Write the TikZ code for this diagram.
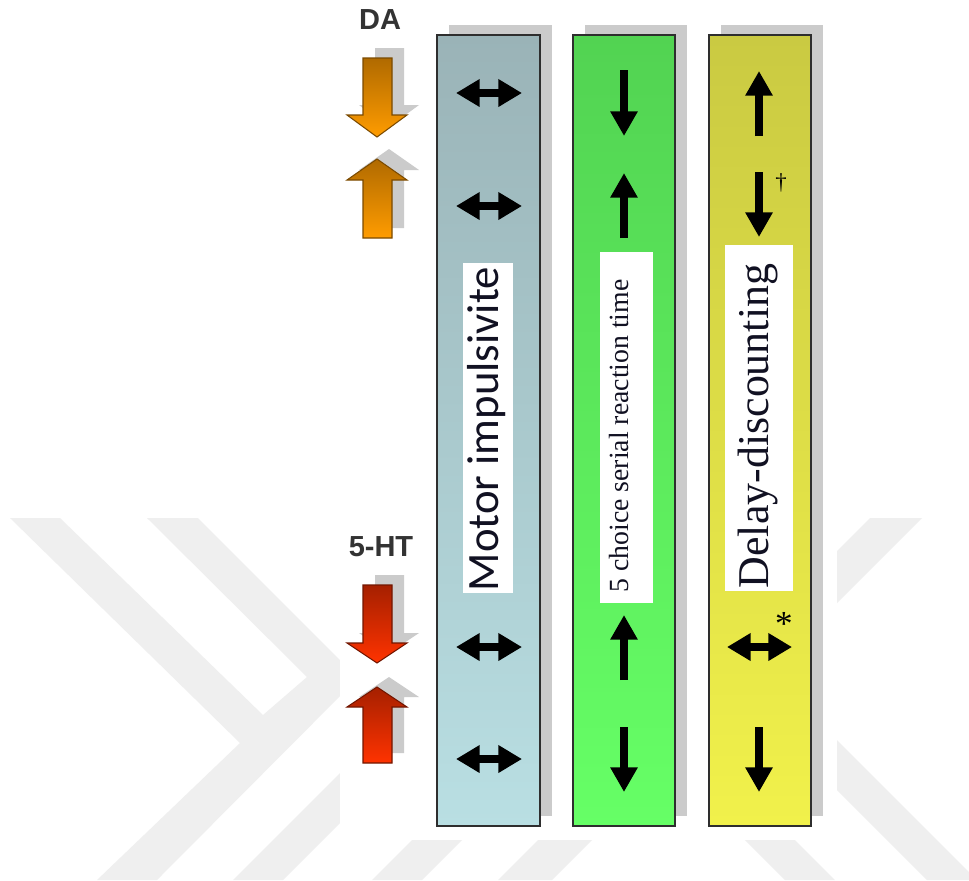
\documentclass[tikz,border=0pt]{standalone}
\usepackage{fontspec}
\setmainfont{Liberation Serif}
\newfontfamily\arialfont{Liberation Sans}
\newfontfamily\carlitofont{Carlito}
\usetikzlibrary{arrows.meta}
\definecolor{wm}{HTML}{EFEFEF}
\definecolor{shad}{HTML}{CBCBCB}
\definecolor{colborder}{HTML}{2E2E2E}
\definecolor{blueTop}{HTML}{9AB3B7}
\definecolor{blueBot}{HTML}{B9DFE3}
\definecolor{greenTop}{HTML}{52D352}
\definecolor{greenBot}{HTML}{66FF66}
\definecolor{yelTop}{HTML}{CACA42}
\definecolor{yelBot}{HTML}{F1F14B}
\definecolor{orTop}{HTML}{B06A00}
\definecolor{orBot}{HTML}{FF9C00}
\definecolor{rdTop}{HTML}{A52000}
\definecolor{rdBot}{HTML}{FF3300}
\definecolor{lbltext}{HTML}{111122}
\definecolor{hdtext}{HTML}{333333}
\tikzset{
  colbox/.style={draw=colborder, line width=1.5pt},
  colshadow/.style={fill=shad},
  lblbox/.style={fill=white},
  vArrow/.style={line width=4.5pt, -{Triangle[width=14.7pt,length=14pt]}},
  hArrow/.style={line width=4.5pt, {Triangle[width=15pt,length=13.5pt]}-{Triangle[width=15pt,length=13.5pt]}},
  orangeArrow/.style={top color=orTop, bottom color=orBot, draw=orTop!70!black, line width=0.6pt},
  redArrow/.style={top color=rdTop, bottom color=rdBot, draw=rdTop!70!black, line width=0.6pt},
  head/.style={font=\arialfont\bfseries\fontsize{16.5}{18}\selectfont, text=hdtext}
}
\begin{document}
\begin{tikzpicture}[x=0.02cm,y=-0.02cm]
\useasboundingbox (0,0) rectangle (969,880);
\fill[white] (0,0) rectangle (969,880);
% watermark
\fill[wm] (10,518) -- (60,518) -- (263,715) -- (307,677) -- (147,518) -- (198,518) -- (358,678) -- (157,880) -- (97,880) -- (240,743) -- cycle;
\fill[wm] (233,880) -- (283,880) -- (400,763) -- (400,713) -- cycle;
\fill[wm] (422,830) -- (472,830) -- (422,880) -- (372,880) -- cycle;
\fill[wm] (548,830) -- (602,830) -- (552,880) -- (498,880) -- cycle;
\fill[wm] (735,830) -- (785,830) -- (835,880) -- (785,880) -- cycle;
\fill[wm] (870,518) -- (922,518) -- (800,640) -- (800,588) -- cycle;
\fill[wm] (800,703) -- (969,872) -- (969,880) -- (927,880) -- (800,753) -- cycle;
\fill[white] (340,0) rectangle (837,840);

% column shadows
\fill[colshadow] (449,25) rectangle (552,816);
\fill[colshadow] (585,25) rectangle (687,816);
\fill[colshadow] (721,25) rectangle (823,816);
% columns
\draw[colbox, top color=blueTop, bottom color=blueBot] (437,35) rectangle (540,826);
\draw[colbox, top color=greenTop, bottom color=greenBot] (573,35) rectangle (675,826);
\draw[colbox, top color=yelTop, bottom color=yelBot] (709,35) rectangle (811,826);

% labels in columns
\fill[lblbox] (463,263) rectangle (513,593);
\node[rotate=90, text=lbltext, font=\carlitofont\fontsize{25.5}{28}\selectfont] (motor) at (487,429) {Motor impulsivite};
\fill[lblbox] (600,252) rectangle (653,603);
\node[rotate=90, text=lbltext, font=\fontsize{15.8}{18}\selectfont] (fcsrt) at (619,436) {5 choice serial reaction time};
\fill[lblbox] (725,245) rectangle (793,591);
\node[rotate=90, text=lbltext, font=\fontsize{25}{28}\selectfont] (delay) at (758,426) {Delay-discounting};

% arrows in blue column
\draw[hArrow] (456,93) -- (522,93);
\draw[hArrow] (456,206) -- (522,206);
\draw[hArrow] (456,647) -- (522,647);
\draw[hArrow] (456,759) -- (522,759);
% green column
\draw[vArrow] (624,70) -- (624,136);
\draw[vArrow] (624,238) -- (624,173);
\draw[vArrow] (624,680) -- (624,615);
\draw[vArrow] (624,727) -- (624,792);
% yellow column
\draw[vArrow] (759,136) -- (759,71);
\draw[vArrow] (759,172) -- (759,237);
\draw[hArrow] (727,647) -- (792,647);
\draw[vArrow] (759,727) -- (759,792);
\node[font=\fontsize{13}{15}\selectfont] (dagger) at (781,183) {\textdagger};
\node[font=\fontsize{20}{22}\selectfont] (star) at (784,624) {*};

% headings
\node[head] (da) at (380,20) {DA};
\node[head] (ht) at (381,547) {5-HT};

% block arrows: shadows
\begin{scope}[shift={(12,-10)}]
\fill[shad] (363,58) -- (392,58) -- (392,115) -- (407,115) -- (377,137) -- (347,115) -- (363,115) -- cycle;
\fill[shad] (377,159) -- (407,180) -- (392,180) -- (392,238) -- (363,238) -- (363,180) -- (347,180) -- cycle;
\fill[shad] (363,585) -- (392,585) -- (392,643) -- (407,643) -- (377,663) -- (347,643) -- (363,643) -- cycle;
\fill[shad] (377,687) -- (407,707) -- (392,707) -- (392,763) -- (363,763) -- (363,707) -- (347,707) -- cycle;
\end{scope}
% block arrows
\draw[orangeArrow] (363,58) -- (392,58) -- (392,115) -- (407,115) -- (377,137) -- (347,115) -- (363,115) -- cycle;
\draw[orangeArrow] (377,159) -- (407,180) -- (392,180) -- (392,238) -- (363,238) -- (363,180) -- (347,180) -- cycle;
\draw[redArrow] (363,585) -- (392,585) -- (392,643) -- (407,643) -- (377,663) -- (347,643) -- (363,643) -- cycle;
\draw[redArrow] (377,687) -- (407,707) -- (392,707) -- (392,763) -- (363,763) -- (363,707) -- (347,707) -- cycle;
\end{tikzpicture}
\end{document}
